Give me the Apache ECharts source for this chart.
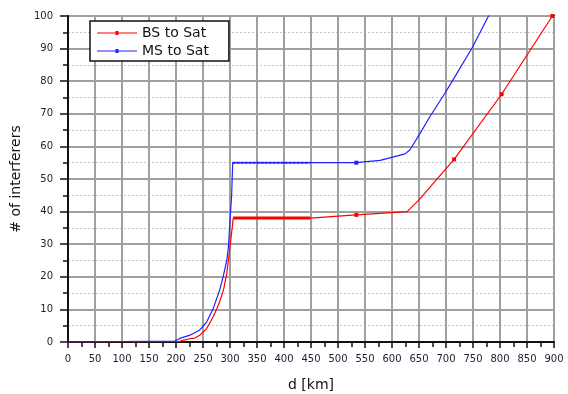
<!DOCTYPE html>
<html>
<head>
<meta charset="utf-8">
<script src="https://cdn.jsdelivr.net/npm/echarts@6/dist/echarts.min.js"></script>
<style>
  html, body { margin: 0; padding: 0; background: #fff; }
  #chart { width: 568px; height: 394px; }
</style>
</head>
<body>
<div id="chart"></div>
<script>
// BS to Sat (red)
let bsX = [0, 207, 215, 225, 235, 244, 250, 257, 263, 269, 275, 281, 288, 294, 300, 304, 306, 448, 534, 628, 650, 715, 803, 897];
let bsY = [0, 0.2, 0.6, 1, 1.2, 2.1, 3, 4.2, 6, 7.8, 10, 12.4, 16, 21, 29.2, 35, 38, 38, 39, 40, 43.6, 56, 76, 100];
// MS to Sat (blue)
let msX = [0, 198, 207, 226, 244, 257, 269, 281, 288, 294, 297, 300, 303, 305, 448, 534, 578, 624, 633, 652, 670, 698, 713, 748, 778, 790];
let msY = [0, 0.3, 1.1, 2.1, 3.7, 6.2, 10.3, 16, 20.5, 25, 29, 37, 45, 55, 55, 55, 55.7, 57.7, 58.9, 64, 69.1, 76.3, 80.4, 90.1, 99.8, 103.7];
// dense (overplotted) stretch of both curves
let bsDenseX = [306, 448];
let bsDenseY = [38, 38];
let msDenseX = [305, 448];
let msDenseY = [55, 55];
// points where the original shows a marker dot
let markAt = [534, 715, 803, 897];

function zip(xs, ys) {
  return xs.map((x, i) => {
    let item = { value: [x, ys[i]] };
    if (markAt.indexOf(x) >= 0) item.symbolSize = 4;
    return item;
  });
}

let labelFont = { fontFamily: "DejaVu Sans", fontSize: 10, color: "#1c1c34" };

let option = {
  backgroundColor: "#fff",
  animation: false,
  grid: {
    left: 68, right: 14, top: 16, bottom: 52,
    outerBoundsMode: "none",
    containLabel: false,
    show: true, borderColor: "#111", borderWidth: 2
  },
  legend: {
    data: ["BS to Sat", "MS to Sat"],
    orient: "vertical",
    left: 90, top: 21,
    padding: [5, 20, 3, 7],
    itemGap: 4,
    itemWidth: 40, itemHeight: 5,
    icon: "path://M0,2 H40 V3 H0 Z M18.5,0.5 H21.5 V4.5 H18.5 Z",
    backgroundColor: "#fff",
    borderColor: "#111", borderWidth: 1.5,
    borderRadius: 0,
    textStyle: { fontFamily: "DejaVu Sans", fontSize: 14, color: "#111" }
  },
  xAxis: {
    type: "value",
    min: 0, max: 900, interval: 50,
    name: "d [km]",
    nameLocation: "middle",
    nameGap: 36,
    nameTextStyle: { fontFamily: "DejaVu Sans", fontSize: 14, color: "#111" },
    axisLine: { lineStyle: { color: "#111", width: 2 } },
    axisTick: { show: true, length: 6, lineStyle: { color: "#111", width: 1.5 } },
    minorTick: { show: true, splitNumber: 2, length: 5, lineStyle: { color: "#111", width: 1.5 } },
    axisLabel: Object.assign({ margin: 12 }, labelFont),
    splitLine: { show: true, lineStyle: { color: "#a0a0a0", width: 2 } }
  },
  yAxis: {
    type: "value",
    min: 0, max: 100, interval: 10,
    name: "# of interferers",
    nameLocation: "middle",
    nameRotate: 90,
    nameGap: 40,
    nameTextStyle: { fontFamily: "DejaVu Sans", fontSize: 14, color: "#111" },
    axisLine: { lineStyle: { color: "#111", width: 2 } },
    axisTick: { show: true, length: 8, lineStyle: { color: "#111", width: 1.5 } },
    minorTick: { show: true, splitNumber: 2, length: 5, lineStyle: { color: "#111", width: 1.5 } },
    axisLabel: Object.assign({ margin: 15 }, labelFont),
    splitLine: { show: true, lineStyle: { color: "#a0a0a0", width: 2 } },
    minorSplitLine: { show: true, lineStyle: { color: "#c4c4c4", width: 1, type: [2, 2] } }
  },
  series: [
    {
      name: "BS to Sat",
      type: "line",
      data: zip(bsX, bsY),
      symbol: "rect",
      symbolSize: 0,
      color: "#ff0000",
      lineStyle: { width: 1.2 },
      clip: true
    },
    {
      name: "MS to Sat",
      type: "line",
      data: zip(msX, msY),
      symbol: "rect",
      symbolSize: 0,
      color: "#2020ff",
      lineStyle: { width: 1.2 },
      clip: true
    },
    {
      name: "bsDense",
      type: "line",
      data: bsDenseX.map((x, i) => [x, bsDenseY[i]]),
      symbol: "none",
      color: "#ff0000",
      lineStyle: { width: 3 }
    },
    {
      name: "msDense",
      type: "line",
      data: msDenseX.map((x, i) => [x, msDenseY[i]]),
      symbol: "none",
      color: "#2020ff",
      lineStyle: { width: 2, type: [3, 1] }
    }
  ]
};

let myChart = echarts.init(document.getElementById("chart"));
myChart.setOption(option);
</script>
</body>
</html>
